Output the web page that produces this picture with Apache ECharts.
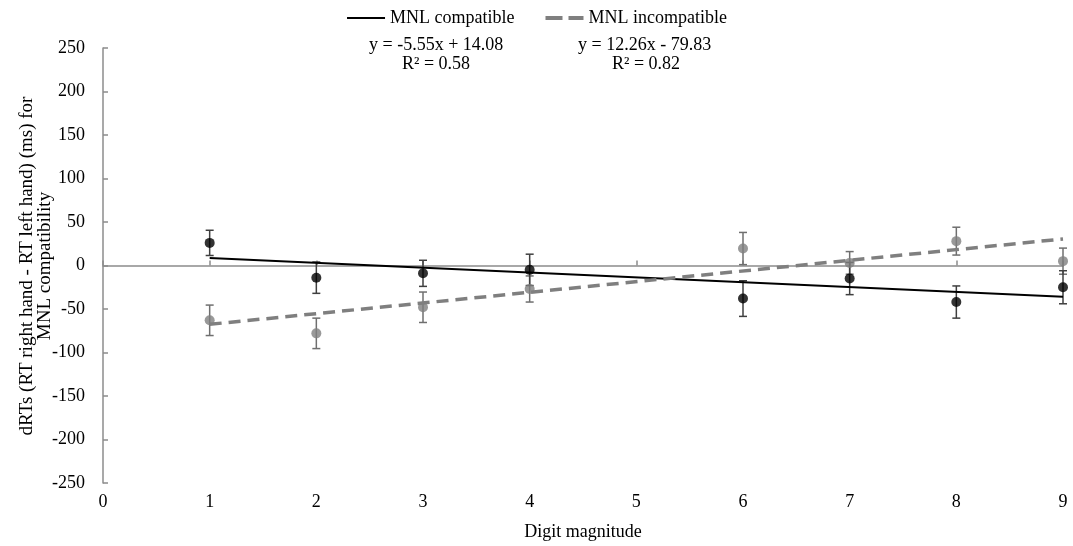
<!DOCTYPE html>
<html>
<head>
<meta charset="utf-8">
<script src="https://cdn.jsdelivr.net/npm/echarts@6/dist/echarts.min.js"></script>
<style>html,body{margin:0;padding:0;background:#fff}#c{width:1073px;height:546px}</style>
</head>
<body>
<div id="c"></div>
<script>
// ---- data ----
const digits = [1, 2, 3, 4, 6, 7, 8, 9];
const compatMean = [26, -14, -9, -5, -38, -15, -42, -25];
const compatErr = [14.5, 18, 15, 18, 20.5, 18.5, 18.5, 19];
const incompMean = [-63, -78, -48, -27, 19.5, 3, 28, 5];
const incompErr = [17.5, 17.5, 17.5, 15, 18.5, 13, 16, 15];
const trendX = [1, 9];
const compatTrend = [8.5, -35.9];
const incompTrend = [-67.6, 30.5];
const xTicks = [0, 1, 2, 3, 4, 5, 6, 7, 8, 9];
const yTicks = [-250, -200, -150, -100, -50, 0, 50, 100, 150, 200, 250];
const seriesNames = ['MNL compatible', 'MNL incompatible'];
const eqTexts = [['y = -5.55x + 14.08', 'R\u00b2 = 0.58'], ['y = 12.26x - 79.83', 'R\u00b2 = 0.82']];
const yTitle = 'dRTs (RT right hand - RT left hand) (ms) for\nMNL compatibility';

const FONT = 'Liberation Serif';
const BLACK = '#000000';
const GREY = '#7f7f7f';
const AXIS = '#8c8c8c';

function pts(xs, ys) { return xs.map((x, i) => [x, ys[i]]); }
function errData(xs, m, e) { return xs.map((x, i) => [x, m[i] - e[i], m[i] + e[i]]); }
function errSeries(data, color) {
  return {
    type: 'custom', xAxisIndex: 0, yAxisIndex: 0, z: 3, silent: true,
    data: data,
    renderItem: function (params, api) {
      const x = api.value(0);
      const lo = api.coord([x, api.value(1)]);
      const hi = api.coord([x, api.value(2)]);
      const w = 4;
      const st = { stroke: color, lineWidth: 1.5 };
      return {
        type: 'group', children: [
          { type: 'line', shape: { x1: lo[0], y1: lo[1], x2: hi[0], y2: hi[1] }, style: st },
          { type: 'line', shape: { x1: lo[0] - w, y1: lo[1], x2: lo[0] + w, y2: lo[1] }, style: st },
          { type: 'line', shape: { x1: hi[0] - w, y1: hi[1], x2: hi[0] + w, y2: hi[1] }, style: st }
        ]
      };
    }
  };
}

const chart = echarts.init(document.getElementById('c'));
chart.setOption({
  animation: false,
  backgroundColor: '#fff',
  textStyle: { fontFamily: FONT },
  grid: { left: 103, right: 10, top: 48, bottom: 62, containLabel: false },
  legend: {
    data: [
      { name: seriesNames[0], lineStyle: { color: BLACK, width: 2, type: 'solid' } },
      { name: seriesNames[1], lineStyle: { color: GREY, width: 4, type: [17, 6] } }
    ],
    top: 4, left: 'center',
    itemWidth: 38, itemHeight: 10, itemGap: 29,
    itemStyle: { opacity: 0 },
    textStyle: { fontFamily: FONT, fontSize: 18, color: '#000' }
  },
  graphic: [
    { type: 'text', left: 369, top: 36, style: { text: eqTexts[0][0], font: '18px "Liberation Serif"', fill: '#000' } },
    { type: 'text', left: 402, top: 55, style: { text: eqTexts[0][1], font: '18px "Liberation Serif"', fill: '#000' } },
    { type: 'text', left: 578, top: 36, style: { text: eqTexts[1][0], font: '18px "Liberation Serif"', fill: '#000' } },
    { type: 'text', left: 612, top: 55, style: { text: eqTexts[1][1], font: '18px "Liberation Serif"', fill: '#000' } },
    {
      type: 'text', x: 36, y: 266, rotation: Math.PI / 2,
      style: { text: yTitle, font: '19px "Liberation Serif"', fill: '#000', align: 'center', verticalAlign: 'middle', lineHeight: 18 }
    }
  ],
  xAxis: [
    {
      type: 'value', min: xTicks[0], max: xTicks[xTicks.length - 1], interval: 1,
      position: 'bottom',
      name: 'Digit magnitude', nameLocation: 'middle', nameGap: 40,
      nameTextStyle: { fontFamily: FONT, fontSize: 18, color: '#000' },
      axisLine: { show: false, onZero: false }, axisTick: { show: false },
      splitLine: { show: false },
      axisLabel: { fontFamily: FONT, fontSize: 18, color: '#000', margin: 10 }
    },
    {
      type: 'value', min: xTicks[0], max: xTicks[xTicks.length - 1], interval: 1,
      position: 'top',
      axisLine: { show: true, onZero: true, lineStyle: { color: AXIS, width: 1.5 } },
      axisTick: { show: true, inside: false, length: 5, lineStyle: { color: AXIS, width: 1.5 } },
      axisLabel: { show: false }, splitLine: { show: false }
    }
  ],
  yAxis: {
    type: 'value', min: yTicks[0], max: yTicks[yTicks.length - 1], interval: 50,
    axisLine: { show: true, lineStyle: { color: AXIS, width: 1.5 } },
    axisTick: { show: true, inside: true, length: 5, lineStyle: { color: AXIS, width: 1.5 } },
    splitLine: { show: false },
    axisLabel: { fontFamily: FONT, fontSize: 18, color: '#000', margin: 18 }
  },
  series: [
    errSeries(errData(digits, incompMean, incompErr), '#6f6f6f'),
    errSeries(errData(digits, compatMean, compatErr), '#3f3f3f'),
    {
      name: 'incompPts', type: 'scatter', xAxisIndex: 0, data: pts(digits, incompMean),
      symbol: 'circle', symbolSize: 10, itemStyle: { color: GREY }, z: 4
    },
    {
      name: 'compatPts', type: 'scatter', xAxisIndex: 0, data: pts(digits, compatMean),
      symbol: 'circle', symbolSize: 10, itemStyle: { color: BLACK }, z: 4
    },
    {
      name: seriesNames[0], type: 'line', xAxisIndex: 0, data: pts(trendX, compatTrend),
      showSymbol: false, symbol: 'none', color: BLACK,
      lineStyle: { color: BLACK, width: 2 }, z: 5
    },
    {
      name: seriesNames[1], type: 'line', xAxisIndex: 0, data: pts(trendX, incompTrend),
      showSymbol: false, symbol: 'none', color: GREY,
      lineStyle: { color: GREY, width: 3.5, type: [12, 7] }, z: 5
    }
  ]
});
</script>
</body>
</html>
